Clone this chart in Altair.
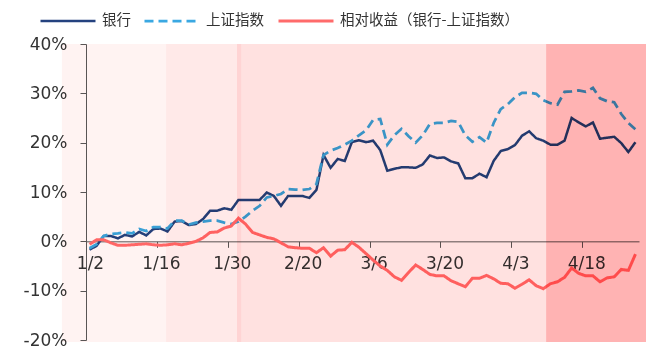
import json
import altair as alt
import pandas as pd

# Trading-day axis: one label every 10 sessions
tick_labels = ["1/2", "1/16", "1/30", "2/20", "3/6", "3/20", "4/3", "4/18"]
tick_step = 10

# Cumulative returns since 1/2 (%), one value per trading session
bank = [-1.7, -0.9, 1.1, 1.1, 0.6, 1.3, 1.0, 1.9, 1.2, 2.5,
        2.6, 2.0, 4.0, 4.1, 3.3, 3.5, 4.5, 6.2, 6.2, 6.7,
        6.4, 8.4, 8.4, 8.4, 8.4, 9.9, 9.2, 7.2, 9.2, 9.2,
        9.2, 8.8, 10.4, 17.5, 14.9, 16.7, 16.3, 20.1, 20.5, 20.1,
        20.4, 18.5, 14.3, 14.7, 15.0, 15.0, 14.9, 15.6, 17.4, 16.9,
        17.0, 16.2, 15.8, 12.8, 12.8, 13.7, 13.0, 16.3, 18.3, 18.7,
        19.5, 21.4, 22.3, 20.9, 20.4, 19.6, 19.6, 20.4, 25.0, 24.1,
        23.3, 24.1, 20.8, 21.0, 21.2, 19.9, 18.1, 20.1]
sh_index = [-1.4, -0.6, 1.1, 1.5, 1.6, 1.8, 1.6, 2.5, 2.1, 2.9,
            2.9, 2.6, 4.2, 4.2, 3.4, 3.8, 4.0, 4.2, 4.2, 3.8,
            3.5, 4.0, 5.0, 6.2, 7.2, 8.9, 9.2, 9.6, 10.6, 10.5,
            10.4, 10.6, 11.6, 17.5, 18.4, 18.9, 19.6, 20.4, 21.5, 22.5,
            24.6, 24.8, 19.6, 21.5, 22.8, 21.3, 20.0, 21.5, 23.8, 24.0,
            24.0, 24.4, 24.2, 21.5, 20.2, 21.1, 20.0, 24.0, 26.8, 27.8,
            29.2, 30.1, 30.1, 29.9, 28.6, 28.0, 27.7, 30.3, 30.4, 30.6,
            30.3, 31.1, 29.0, 28.4, 28.2, 25.8, 24.0, 22.7]
relative = [-0.6, 0.3, 0.3, -0.3, -0.8, -0.8, -0.7, -0.6, -0.5, -0.7,
            -0.8, -0.7, -0.5, -0.7, -0.4, 0.0, 0.7, 1.8, 1.9, 2.7,
            3.1, 4.7, 3.5, 1.8, 1.3, 0.8, 0.5, -0.3, -1.1, -1.3,
            -1.4, -1.4, -2.3, -1.3, -3.0, -1.8, -1.7, -0.2, -1.2, -2.5,
            -3.8, -5.0, -5.9, -7.2, -7.9, -6.3, -4.8, -5.7, -6.7, -7.0,
            -7.0, -8.0, -8.6, -9.2, -7.5, -7.5, -6.9, -7.6, -8.5, -8.6,
            -9.5, -8.7, -7.8, -9.0, -9.6, -8.6, -8.2, -7.3, -5.4, -6.5,
            -7.0, -7.0, -8.2, -7.4, -7.2, -5.7, -5.9, -2.6]

series_names = ["银行", "上证指数", "相对收益（银行-上证指数）"]
series_colors = ["#24427f", "#3aa8e2", "#ff6b6b"]
series_widths = [2.5, 3.0, 4.5]
series_dashes = [[1, 0], [9, 5], [1, 0]]

# Shaded periods (in session-index units) and their tints
band_start = [-3.9, 10.8, 20.8, 21.4, 64.4]
band_end = [10.8, 20.8, 21.4, 64.4, 79.5]
band_fill = ["#fff3f2", "#ffe9e8", "#ffd4d4", "#ffe1e0", "#ffb3b3"]
band_top = 40
band_bottom = -20.4

n = len(bank)
rows = []
for name, vals in zip(series_names, [bank, sh_index, relative]):
    for i, v in enumerate(vals):
        rows.append({"day": i, "value": v, "series": name})
lines_df = pd.DataFrame(rows)

bands_df = pd.DataFrame({
    "start": band_start,
    "end": band_end,
    "fill": band_fill,
    "top": [band_top] * len(band_start),
    "bottom": [band_bottom] * len(band_start),
})

W, H = 553, 296
y_min, y_max = -20, 40
zero_offset = -(H * (0 - y_min) / (y_max - y_min))

label_expr = json.dumps(tick_labels) + f"[round((datum.value + 0.5) / {tick_step})]"
x_scale = alt.Scale(domain=[-0.5, n - 0.5], nice=False, zero=False)
y_scale = alt.Scale(domain=[y_min, y_max], nice=False)

axis_font = "DejaVu Sans"
x_axis = alt.Axis(
    values=[k * tick_step - 0.5 for k in range(len(tick_labels))],
    labelExpr=label_expr, offset=zero_offset, title=None, grid=False,
    tickSize=6, labelPadding=8, labelOffset=4, labelFont=axis_font,
    labelFontSize=17, labelColor="#333333", domainColor="#595959",
    tickColor="#595959", labelFlush=False, labelOverlap=False,
)
y_axis = alt.Axis(
    values=list(range(y_min, y_max + 1, 10)), labelExpr="datum.value + '%'",
    title=None, grid=False, tickSize=6, labelPadding=13, labelFont=axis_font,
    labelFontSize=17, labelColor="#333333", domainColor="#595959",
    tickColor="#595959",
)

legend = alt.Legend(
    orient="none", legendX=-47, legendY=-52, direction="horizontal", title=None,
    symbolType="stroke", symbolSize=3025, labelFont="Noto Sans CJK SC",
    labelFontSize=14.5, labelColor="#333333", labelOffset=5, columnPadding=8,
    padding=0, labelLimit=400, gridAlign="none",
)

lines = alt.Chart(lines_df).mark_line().encode(
    x=alt.X("day:Q", scale=x_scale, axis=x_axis),
    y=alt.Y("value:Q", scale=y_scale, axis=y_axis),
    color=alt.Color("series:N", sort=series_names,
                    scale=alt.Scale(domain=series_names, range=series_colors), legend=legend),
    strokeDash=alt.StrokeDash("series:N", sort=series_names,
                              scale=alt.Scale(domain=series_names, range=series_dashes), legend=legend),
    strokeWidth=alt.StrokeWidth("series:N", sort=series_names,
                                scale=alt.Scale(domain=series_names, range=series_widths), legend=legend),
    order=alt.Order("day:Q"),
)

bands = alt.Chart(bands_df).mark_rect(blend="multiply").encode(
    x=alt.X("start:Q", scale=x_scale),
    x2="end:Q",
    y=alt.Y("top:Q", scale=y_scale),
    y2="bottom:Q",
    fill=alt.Fill("fill:N", scale=None),
)

chart = alt.layer(lines, bands).properties(
    width=W, height=H,
    autosize=alt.AutoSizeParams(type="none"),
    padding={"left": 86, "top": 44, "right": 7, "bottom": 10},
).configure_view(stroke=None)

chart.save("out.html", embed_options={"renderer": "svg", "actions": False})
